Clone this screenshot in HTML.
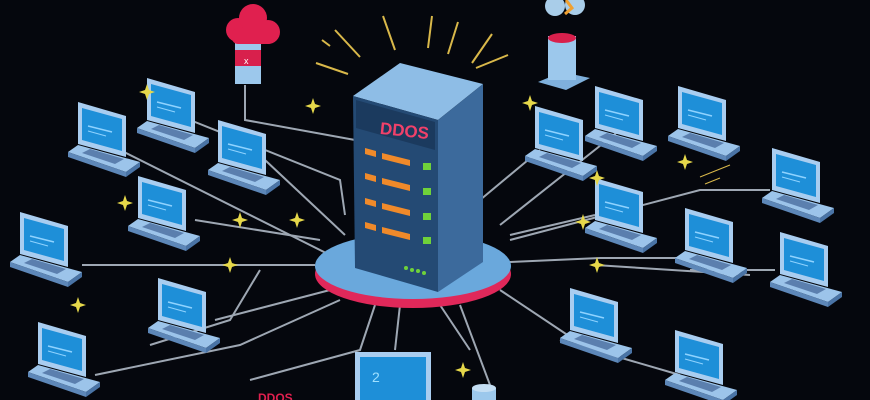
<!DOCTYPE html>
<html><head><meta charset="utf-8"><style>
html,body{margin:0;padding:0;background:#05070d;}
svg{display:block}
</style></head><body>
<svg width="870" height="400" viewBox="0 0 870 400" xmlns="http://www.w3.org/2000/svg">
<defs>
<g id="lap">
<polygon points="10,0 58,14 58,55 10,42" fill="#a9cdf0"/>
<polygon points="14,6 54,17 54,49 14,38" fill="#1e8fd8"/>
<line x1="20" y1="24" x2="44" y2="30" stroke="#8fd3ff" stroke-width="1.5"/>
<line x1="20" y1="29" x2="38" y2="34" stroke="#8fd3ff" stroke-width="1"/>
<polygon points="0,50 10,43 72,60 58,70" fill="#9cc4ea"/>
<polygon points="0,50 58,70 58,75 0,55" fill="#5d87b8"/>
<polygon points="58,70 72,60 72,65 58,75" fill="#4a74a6"/>
<polygon points="14,51 22,47 56,57 47,62" fill="#5b7fae"/>
</g>
<g id="star"><path d="M0,-8 L2,-2 8,0 2,2 0,8 -2,2 -8,0 -2,-2Z" fill="#e6d84a"/></g>
</defs>
<g stroke="#b9c4d0" stroke-width="2" fill="none" opacity="0.85">
<path d="M120,150 L330,255"/><path d="M190,120 L340,180 L345,215"/><path d="M265,160 L345,235"/>
<path d="M195,220 L320,240"/><path d="M82,265 L315,265"/><path d="M215,320 L330,290"/>
<path d="M95,375 L240,345 L340,300"/><path d="M395,350 L400,305"/><path d="M460,305 L490,385"/>
<path d="M440,305 L470,350"/><path d="M540,150 L480,200"/><path d="M620,130 L500,225"/>
<path d="M705,125 L700,130"/><path d="M770,190 L700,190 L510,240"/><path d="M595,215 L510,235"/>
<path d="M690,258 L600,258 L510,262"/><path d="M775,270 L690,270"/><path d="M575,340 L500,290"/>
<path d="M680,375 L560,340"/><path d="M245,85 L245,120 L355,140"/><path d="M595,265 L750,275"/>
<path d="M260,270 L230,320 L150,345"/><path d="M375,305 L360,350 L250,380"/>
</g>
<!-- platform -->
<ellipse cx="413" cy="274" rx="98" ry="34" fill="#e0285a"/>
<ellipse cx="413" cy="266" rx="98" ry="33" fill="#6aa8dc"/>
<!-- server -->
<polygon points="353,96 400,63 483,84 438,120" fill="#8ebde6"/>
<polygon points="438,120 483,84 483,262 438,292" fill="#3c6a9c"/>
<polygon points="353,96 438,120 438,292 355,268" fill="#244a74"/>
<polygon points="356,100 435,122 435,150 356,128" fill="#1b3a5e"/>
<text x="380" y="136" font-family="Liberation Sans, sans-serif" font-weight="bold" font-size="17" fill="#f0416a" transform="rotate(6 400 130)">DDOS</text>
<g fill="#f08a2a">
<polygon points="365,148 376,151 376,157 365,154"/><polygon points="382,153 410,160 410,166 382,159"/>
<polygon points="365,173 376,176 376,182 365,179"/><polygon points="382,178 410,185 410,191 382,184"/>
<polygon points="365,198 376,201 376,207 365,204"/><polygon points="382,203 410,210 410,216 382,209"/>
<polygon points="365,222 376,225 376,231 365,228"/><polygon points="382,227 410,234 410,240 382,233"/>
</g>
<g fill="#6fd23a"><rect x="423" y="163" width="8" height="7"/><rect x="423" y="188" width="8" height="7"/><rect x="423" y="213" width="8" height="7"/><rect x="423" y="237" width="8" height="7"/>
<circle cx="406" cy="268" r="2"/><circle cx="412" cy="270" r="2"/><circle cx="418" cy="271" r="2"/><circle cx="424" cy="273" r="2"/></g>
<!-- burst lines -->
<g stroke="#d9b84a" stroke-width="2">
<line x1="322" y1="40" x2="330" y2="46"/><line x1="335" y1="30" x2="360" y2="57"/><line x1="316" y1="63" x2="348" y2="74"/>
<line x1="383" y1="16" x2="395" y2="50"/><line x1="432" y1="16" x2="428" y2="48"/><line x1="458" y1="22" x2="448" y2="54"/>
<line x1="492" y1="34" x2="472" y2="63"/><line x1="508" y1="55" x2="476" y2="68"/>
</g>
<!-- cloud + cylinder left -->
<rect x="235" y="42" width="26" height="42" fill="#9cc8ec"/>
<rect x="235" y="50" width="26" height="16" fill="#d8204c"/>
<text x="244" y="64" font-family="Liberation Sans, sans-serif" font-size="9" fill="#fff">x</text>
<g fill="#e0204f"><circle cx="238" cy="30" r="12"/><circle cx="253" cy="18" r="14"/><circle cx="268" cy="32" r="12"/><rect x="232" y="28" width="42" height="16" rx="6"/></g>
<!-- cylinder right -->
<polygon points="538,82 562,72 590,78 566,90" fill="#7fb0dc"/>
<rect x="548" y="36" width="28" height="44" fill="#9cc8ec"/>
<ellipse cx="562" cy="38" rx="14" ry="5" fill="#d8204c"/>
<g fill="#a9cde9"><circle cx="555" cy="6" r="10"/><circle cx="575" cy="5" r="10"/></g>
<path d="M566,0 L572,8 565,14" stroke="#f0a030" stroke-width="3" fill="none"/>
<!-- laptops -->
<use href="#lap" x="68" y="102"/><use href="#lap" x="137" y="78"/><use href="#lap" x="208" y="120"/>
<use href="#lap" x="128" y="176"/><use href="#lap" x="10" y="212"/><use href="#lap" x="148" y="278"/>
<use href="#lap" x="28" y="322"/><use href="#lap" x="525" y="106"/><use href="#lap" x="585" y="86"/>
<use href="#lap" x="668" y="86"/><use href="#lap" x="762" y="148"/><use href="#lap" x="585" y="178"/>
<use href="#lap" x="675" y="208"/><use href="#lap" x="770" y="232"/><use href="#lap" x="560" y="288"/>
<use href="#lap" x="665" y="330"/>
<!-- bottom monitor -->
<rect x="355" y="352" width="76" height="50" fill="#a9cdf0"/>
<rect x="360" y="357" width="66" height="43" fill="#1e8fd8"/>
<text x="372" y="382" font-family="Liberation Sans, sans-serif" font-size="14" fill="#9fe0ff">2</text>
<rect x="472" y="388" width="24" height="14" fill="#9cc8ec"/><ellipse cx="484" cy="388" rx="12" ry="4" fill="#c4def3"/>
<text x="258" y="402" font-family="Liberation Sans, sans-serif" font-weight="bold" font-size="12" fill="#e0204f">DDOS</text>
<!-- stars -->
<use href="#star" x="313" y="106"/><use href="#star" x="125" y="203"/><use href="#star" x="240" y="220"/>
<use href="#star" x="297" y="220"/><use href="#star" x="230" y="265"/><use href="#star" x="78" y="305"/>
<use href="#star" x="530" y="103"/><use href="#star" x="685" y="162"/><use href="#star" x="597" y="178"/>
<use href="#star" x="583" y="222"/><use href="#star" x="597" y="265"/><use href="#star" x="147" y="92"/>
<use href="#star" x="463" y="370"/>
<g stroke="#d9b84a" stroke-width="1"><line x1="700" y1="177" x2="730" y2="165"/><line x1="705" y1="184" x2="720" y2="178"/></g>
</svg>
</body></html>
